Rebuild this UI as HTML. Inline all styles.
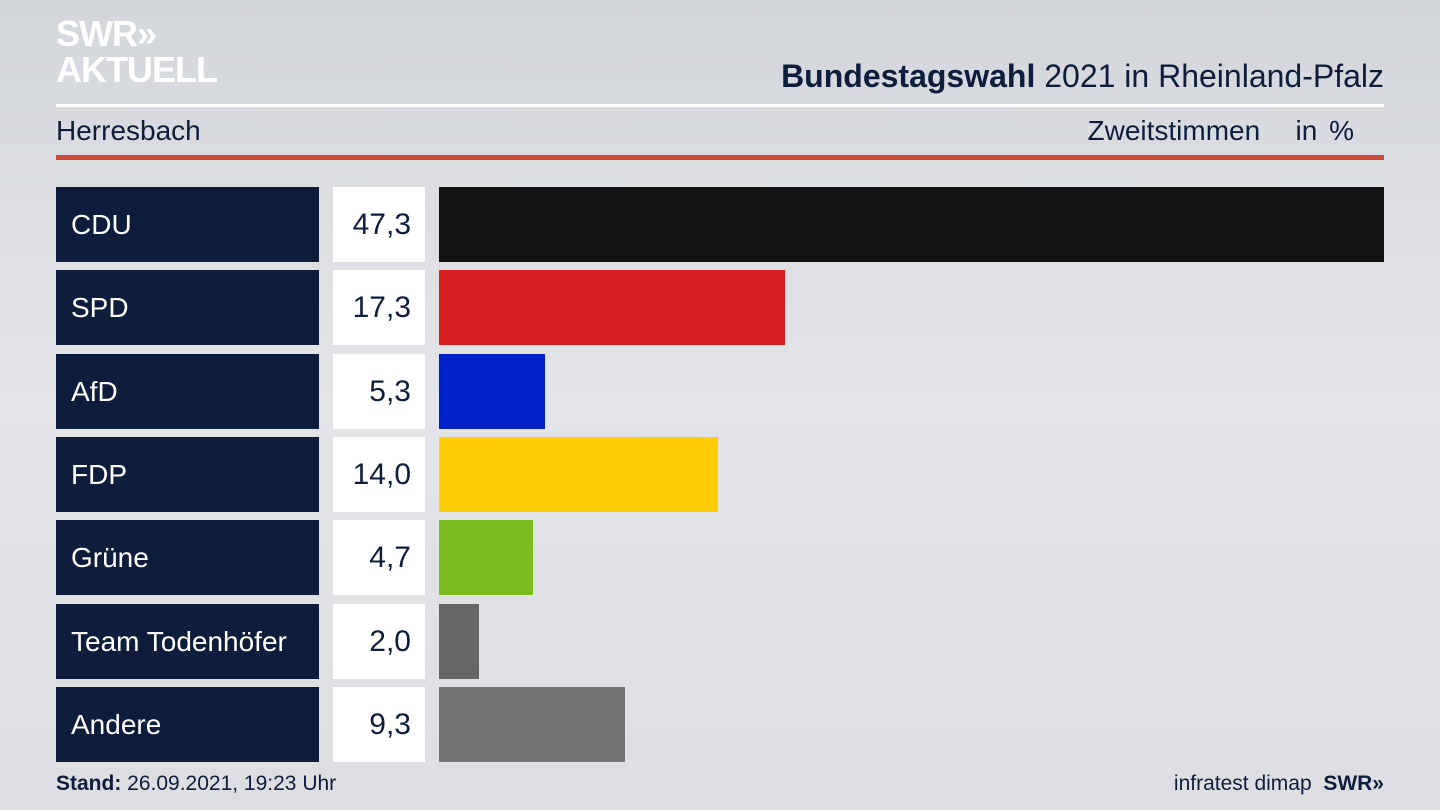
<!DOCTYPE html>
<html><head><meta charset="utf-8"><style>
body{margin:0;width:1440px;height:810px;overflow:hidden;font-family:"Liberation Sans","DejaVu Sans",sans-serif;background:linear-gradient(180deg,#d3d6db 0%,#e4e5e8 50%,#dcdee2 100%);position:relative;color:#0f1d3c}
.a{position:absolute}
.lab{position:absolute;left:56px;width:263px;height:75px;background:#0e1d3c;color:#fff;font-size:28px;line-height:75px;box-sizing:border-box;padding-left:15px}
.val{position:absolute;left:333px;width:92px;height:75px;background:#fff;font-size:30px;line-height:75px;text-align:right;box-sizing:border-box;padding-right:14px;color:#0f1d3c}
.bar{position:absolute;left:439px;height:75px}
</style></head><body>
<div class="a" style="left:56px;top:16px;color:#fff;font-weight:bold;font-size:36px;line-height:36px;letter-spacing:-1px">SWR»<br>AKTUELL</div>
<div class="a" style="right:56px;top:58px;font-size:32px;color:#0f1d3c"><b>Bundestagswahl</b> 2021 in Rheinland-Pfalz</div>
<div class="a" style="left:56px;top:104px;width:1328px;height:3px;background:#fff"></div>
<div class="a" style="left:56px;top:115px;font-size:28px">Herresbach</div>
<div class="a" style="right:86px;top:115px;font-size:28px;word-spacing:4px">Zweitstimmen &nbsp; in %</div>
<div class="a" style="left:56px;top:155px;width:1328px;height:5px;background:#d04a3a"></div>

<div class="lab" style="top:187px">CDU</div><div class="val" style="top:187px">47,3</div><div class="bar" style="top:187px;width:945px;background:#121212"></div>
<div class="lab" style="top:270px">SPD</div><div class="val" style="top:270px">17,3</div><div class="bar" style="top:270px;width:346px;background:#d81e1e"></div>
<div class="lab" style="top:354px">AfD</div><div class="val" style="top:354px">5,3</div><div class="bar" style="top:354px;width:106px;background:#0021c8"></div>
<div class="lab" style="top:437px">FDP</div><div class="val" style="top:437px">14,0</div><div class="bar" style="top:437px;width:279px;background:#ffcc08"></div>
<div class="lab" style="top:520px">Grüne</div><div class="val" style="top:520px">4,7</div><div class="bar" style="top:520px;width:94px;background:#79bd1e"></div>
<div class="lab" style="top:604px">Team Todenhöfer</div><div class="val" style="top:604px">2,0</div><div class="bar" style="top:604px;width:40px;background:#666"></div>
<div class="lab" style="top:687px">Andere</div><div class="val" style="top:687px">9,3</div><div class="bar" style="top:687px;width:186px;background:#747577"></div>

<div class="a" style="left:56px;top:772px;font-size:21px"><b>Stand:</b> 26.09.2021, 19:23 Uhr</div>
<div class="a" style="right:56px;top:772px;font-size:21px">infratest dimap &nbsp;<b>SWR»</b></div>
</body></html>
